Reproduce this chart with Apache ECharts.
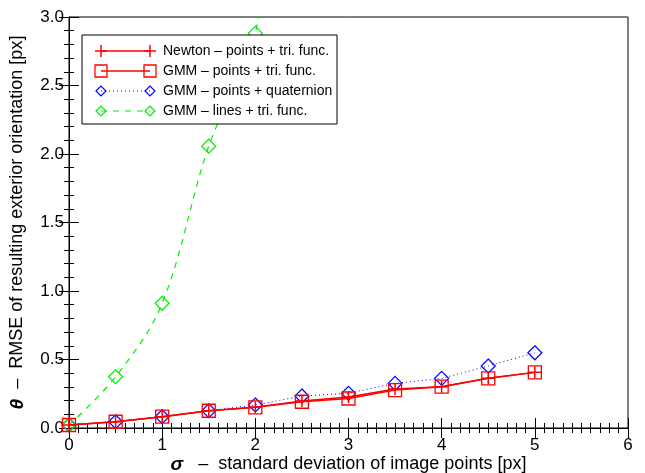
<!DOCTYPE html>
<html><head><meta charset="utf-8">
<script src="https://cdn.jsdelivr.net/npm/echarts@6/dist/echarts.min.js"></script>
<style>html,body{margin:0;padding:0;background:#fff}#c{width:645px;height:473px}</style>
</head><body><div id="c"></div>
<script>
const sigma = [0, 0.5, 1, 1.5, 2, 2.5, 3, 3.5, 4, 4.5, 5];
const newtonPts = [0, 0.024, 0.061, 0.105, 0.130, 0.176, 0.206, 0.265, 0.282, 0.343, 0.387];
const gmmPtsTri = [0, 0.024, 0.061, 0.105, 0.130, 0.171, 0.195, 0.257, 0.282, 0.343, 0.387];
const gmmPtsQuat = [0, 0.024, 0.061, 0.105, 0.147, 0.213, 0.233, 0.306, 0.343, 0.434, 0.531];
const gmmLinesSigma = [0, 0.5, 1, 1.5, 2, 2.5];
const gmmLinesTri = [0, 0.355, 0.895, 2.05, 2.88, 5.3];
const seriesNames = ['Newton – points + tri. func.', 'GMM – points + tri. func.', 'GMM – points + quaternion', 'GMM – lines + tri. func.'];
const xTicks = [0, 1, 2, 3, 4, 5, 6];
const yTicks = [0, 0.5, 1, 1.5, 2, 2.5, 3];

const RED = '#ff0000', BLUE = '#0000ff', GREEN = '#00ee00';
const FONT = 'Liberation Sans';
const plusPath = 'path://M0,6L12,6M6,0L6,12';
const pair = (xs, ys) => xs.map((x, i) => [x, ys[i]]);

const chart = echarts.init(document.getElementById('c'), null, {renderer: 'canvas'});
const tickCommon = {inside: true, length: 10, lineStyle: {color: '#000', width: 1}};
const minorCommon = (n) => ({show: true, splitNumber: n, length: 5, lineStyle: {color: '#000', width: 1}});

function legendRow(i, y, color, kind, dash) {
  const x1 = 101, x2 = 150, Z = 100;
  const children = [{type: 'line', z: Z, shape: {x1: x1, y1: y, x2: x2, y2: y}, style: {stroke: color, lineWidth: kind === 'diamond' ? 1 : 1.5, lineDash: dash}}];
  [x1, x2].forEach(cx => {
    if (kind === 'plus') {
      children.push({type: 'line', z: Z, shape: {x1: cx - 6, y1: y, x2: cx + 6, y2: y}, style: {stroke: color, lineWidth: 1.5}});
      children.push({type: 'line', z: Z, shape: {x1: cx, y1: y - 6, x2: cx, y2: y + 6}, style: {stroke: color, lineWidth: 1.5}});
    } else if (kind === 'rect') {
      children.push({type: 'rect', z: Z, shape: {x: cx - 6, y: y - 6, width: 12, height: 12}, style: {fill: 'none', stroke: color, lineWidth: 1.3}});
    } else {
      children.push({type: 'polygon', z: Z, shape: {points: [[cx - 5, y], [cx, y - 5], [cx + 5, y], [cx, y + 5]]}, style: {fill: 'none', stroke: color, lineWidth: 1.2}});
    }
  });
  children.push({type: 'text', z: Z, x: 163, y: y, style: {text: seriesNames[i], font: '14px "' + FONT + '"', fill: '#000', verticalAlign: 'middle', textVerticalAlign: 'middle'}});
  return {type: 'group', children: children};
}

const option = {
  animation: false,
  backgroundColor: '#fff',
  grid: {left: 69, top: 17, right: 17, bottom: 45, show: true, borderColor: '#000', borderWidth: 1, backgroundColor: 'transparent', outerBoundsMode: 'none', containLabel: false},
  xAxis: [{
    type: 'value', min: 0, max: 6, interval: 1, position: 'bottom',
    axisLine: {show: true, lineStyle: {color: '#000'}},
    axisTick: tickCommon, minorTick: minorCommon(10), splitLine: {show: false},
    axisLabel: {color: '#000', fontFamily: FONT, fontSize: 17, margin: 9, formatter: v => xTicks.includes(v) ? String(v) : ''},
    name: '{b|σ}   –  standard deviation of image points [px]', nameLocation: 'middle', nameGap: 27, nameMoveOverlap: false,
    nameTextStyle: {color: '#000', fontFamily: FONT, fontSize: 18, rich: {b: {fontWeight: 'bold', fontStyle: 'italic', fontSize: 19, fontFamily: FONT}}}
  }, {
    type: 'value', min: 0, max: 6, interval: 1, position: 'top',
    axisLine: {show: true, lineStyle: {color: '#000'}},
    axisTick: tickCommon, minorTick: minorCommon(10), splitLine: {show: false}, axisLabel: {show: false}
  }],
  yAxis: [{
    type: 'value', min: 0, max: 3, interval: 0.5, position: 'left',
    axisLine: {show: true, lineStyle: {color: '#000'}},
    axisTick: tickCommon, minorTick: minorCommon(5), splitLine: {show: false},
    axisLabel: {color: '#000', fontFamily: FONT, fontSize: 17, margin: 5, formatter: v => yTicks.includes(v) ? v.toFixed(1) : ''},
    name: '{b|θ}  –  RMSE of resulting exterior orientation [px]', nameLocation: 'middle', nameGap: 42, nameMoveOverlap: false,
    nameTextStyle: {color: '#000', fontFamily: FONT, fontSize: 18, rich: {b: {fontWeight: 'bold', fontStyle: 'italic', fontSize: 19, fontFamily: FONT}}}
  }, {
    type: 'value', min: 0, max: 3, interval: 0.5, position: 'right',
    axisLine: {show: true, lineStyle: {color: '#000'}},
    axisTick: tickCommon, minorTick: minorCommon(5), splitLine: {show: false}, axisLabel: {show: false}
  }, {
    type: 'value', min: -0.022, max: 3, show: false
  }],
  series: [{
    name: seriesNames[0], type: 'line', data: pair(sigma, newtonPts), clip: true, yAxisIndex: 2,
    symbol: plusPath, symbolSize: 12,
    itemStyle: {color: 'rgba(0,0,0,0)', borderColor: RED, borderWidth: 1.5},
    lineStyle: {color: RED, width: 1.5}, z: 4
  }, {
    name: seriesNames[1], type: 'line', data: pair(sigma, gmmPtsTri), clip: true, yAxisIndex: 2,
    symbol: 'rect', symbolSize: 13,
    itemStyle: {color: 'rgba(0,0,0,0)', borderColor: RED, borderWidth: 1.3},
    lineStyle: {color: RED, width: 1.5}, z: 4
  }, {
    name: seriesNames[2], type: 'line', data: pair(sigma, gmmPtsQuat), clip: true, yAxisIndex: 2,
    symbol: 'diamond', symbolSize: [14, 14],
    itemStyle: {color: 'rgba(0,0,0,0)', borderColor: BLUE, borderWidth: 1.2},
    lineStyle: {color: BLUE, width: 1, type: [1, 3]}, z: 3
  }, {
    name: seriesNames[3], type: 'line', data: pair(gmmLinesSigma, gmmLinesTri), clip: true, yAxisIndex: 2,
    symbol: 'diamond', symbolSize: [14, 14], smooth: 0.35,
    itemStyle: {color: 'rgba(0,0,0,0)', borderColor: GREEN, borderWidth: 1.2},
    lineStyle: {color: GREEN, width: 1.2, type: [6, 6]}, z: 3
  }],
  graphic: [
    {type: 'rect', shape: {x: 82, y: 35, width: 255, height: 89}, style: {fill: '#fff', stroke: '#000', lineWidth: 1}, z: 99},
    legendRow(0, 51, RED, 'plus', null),
    legendRow(1, 71, RED, 'rect', null),
    legendRow(2, 91, BLUE, 'diamond', [1, 3]),
    legendRow(3, 111, GREEN, 'diamond', [6, 6])
  ]
};
chart.setOption(option);
</script></body></html>
